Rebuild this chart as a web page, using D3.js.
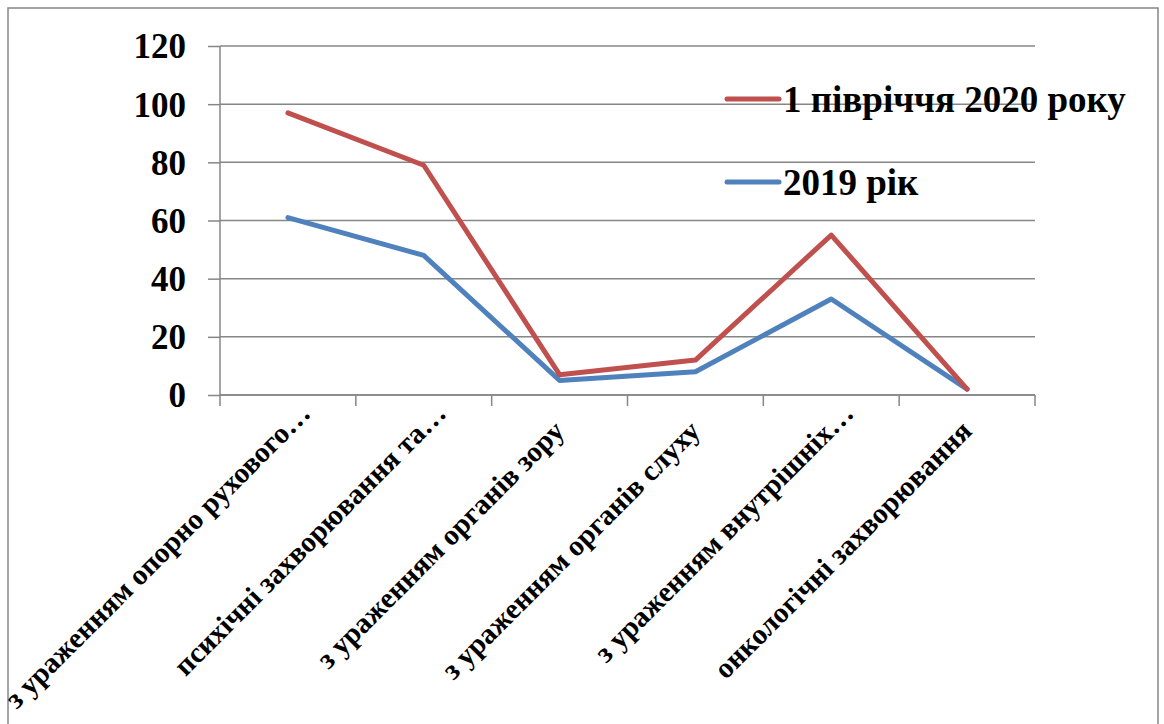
<!DOCTYPE html>
<html>
<head>
    <meta charset="utf-8">
    <script src="https://d3js.org/d3.v7.min.js"></script>
    <style>
        body { margin: 0; background: #fff; font-family: "Liberation Serif", "Times New Roman", serif; }
    </style>
</head>
<body>
<div class="chart"></div>
<script>
    const categories = [
        "з ураженням опорно рухового…",
        "психічні захворювання та…",
        "з ураженням органів зору",
        "з ураженням органів слуху",
        "з ураженням внутрішніх…",
        "онкологічні захворювання"
    ];
    const series2020 = [97, 79, 7, 12, 55, 2];
    const series2019 = [61, 48, 5, 8, 33, 2];
    const yTicks = [0, 20, 40, 60, 80, 100, 120];
    const legendNames = ["1 півріччя 2020 року", "2019 рік"];

    const svg = d3.select(".chart").append("svg").attr("width", 1164).attr("height", 724),
        margin = {top: 46, left: 220, right: 129, bottom: 329},
        width = 1164 - margin.left - margin.right,
        height = 724 - margin.top - margin.bottom;

    // outer frame
    svg.append("rect")
        .attr("x", 8).attr("y", 8).attr("width", 1150).attr("height", 730)
        .attr("fill", "none").attr("stroke", "#868686").attr("stroke-width", 1.5);

    const g = svg.append("g").attr("transform", "translate(" + margin.left + "," + margin.top + ")");

    const x = d3.scaleBand().domain(categories).range([0, width]);
    const y = d3.scaleLinear().domain([0, 120]).range([height, 0]);

    // horizontal gridlines
    g.selectAll(".grid").data(yTicks).enter().append("line")
        .attr("x1", 0).attr("x2", width)
        .attr("y1", d => y(d)).attr("y2", d => y(d))
        .attr("stroke", "#868686").attr("stroke-width", 1.5);

    // y axis
    const yAxis = g.append("g")
        .call(d3.axisLeft(y).tickValues(yTicks).tickSize(12).tickPadding(22));
    yAxis.selectAll("line, path").attr("stroke", "#868686").attr("stroke-width", 1.5);
    yAxis.select(".domain").attr("d", "M0," + height + "V0");
    yAxis.selectAll("text")
        .attr("fill", "#000")
        .style("font-family", "'Liberation Serif', serif")
        .style("font-weight", "bold")
        .style("font-size", "35px")
        .attr("dy", "0.34em");

    // x axis with boundary ticks
    const xg = g.append("g").attr("transform", "translate(0," + height + ")");
    xg.append("line").attr("x1", 0).attr("x2", width)
        .attr("stroke", "#868686").attr("stroke-width", 1.5);
    const bounds = categories.map(c => x(c)).concat([width]);
    xg.selectAll(".tk").data(bounds).enter().append("line")
        .attr("x1", d => d).attr("x2", d => d)
        .attr("y1", 0).attr("y2", 11)
        .attr("stroke", "#868686").attr("stroke-width", 1.5);

    // truncated labels (ending in …) sit a bit further along than full ones
    xg.selectAll(".lbl").data(categories).enter().append("text")
        .attr("transform", d => "translate(" + (x(d) + x.bandwidth() / 2 + 24) + ",20) rotate(-45)")
        .attr("x", d => d.endsWith("…") ? 0 : -25)
        .attr("text-anchor", "end")
        .style("font-family", "'Liberation Serif', serif")
        .style("font-weight", "bold")
        .style("font-size", "29px")
        .attr("fill", "#000")
        .text(d => d);

    const line = d3.line()
        .x((d, i) => x(categories[i]) + x.bandwidth() / 2)
        .y(d => y(d));

    const colors = ["#C0504D", "#4F81BD"];
    [series2019, series2020].forEach(function(s, k) {
        g.append("path")
            .datum(s)
            .attr("fill", "none")
            .attr("stroke", k === 0 ? colors[1] : colors[0])
            .attr("stroke-width", 5)
            .attr("stroke-linejoin", "round")
            .attr("stroke-linecap", "round")
            .attr("d", line);
    });

    // legend
    const legend = svg.selectAll(".legend").data(legendNames).enter().append("g")
        .attr("transform", (d, i) => "translate(725," + (99 + i * 83) + ")");
    legend.append("line")
        .attr("x1", 2).attr("x2", 54)
        .attr("stroke", (d, i) => colors[i])
        .attr("stroke-width", 5)
        .attr("stroke-linecap", "round");
    legend.append("text")
        .attr("x", 58).attr("y", 13)
        .style("font-family", "'Liberation Serif', serif")
        .style("font-weight", "bold")
        .style("font-size", "37px")
        .attr("fill", "#000")
        .text(d => d);
</script>
</body>
</html>
